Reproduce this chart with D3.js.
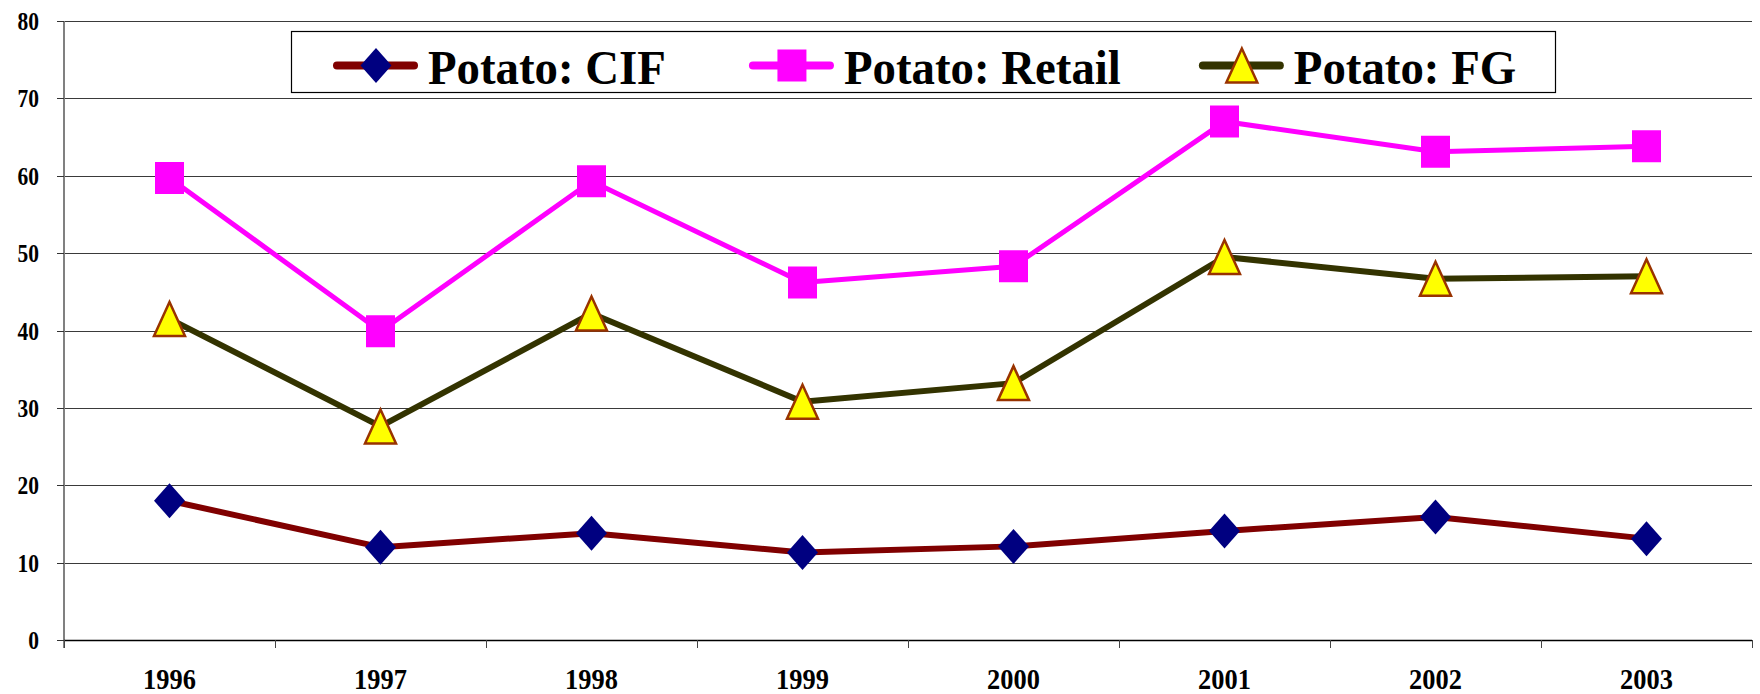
<!DOCTYPE html>
<html>
<head>
<meta charset="utf-8">
<script src="https://cdn.jsdelivr.net/npm/d3@7"></script>
<style>
  html, body { margin: 0; padding: 0; background: #fff; }
  svg { display: block; }
  text { font-family: "Liberation Serif", "Times New Roman", Times, "DejaVu Serif", serif; font-weight: bold; fill: #000; }
</style>
</head>
<body>
<div id="chart"></div>
<script>
// data
const years = ['1996', '1997', '1998', '1999', '2000', '2001', '2002', '2003'];
const cif = [18.0, 12.0, 13.8, 11.3, 12.1, 14.1, 15.9, 13.1];
const retail = [59.7, 39.9, 59.3, 46.2, 48.3, 67.0, 63.1, 63.8];
const fg = [41.5, 27.6, 42.2, 30.8, 33.2, 49.5, 46.7, 47.0];
const yTicks = [0, 10, 20, 30, 40, 50, 60, 70, 80];
const seriesNames = ['Potato: CIF', 'Potato: Retail', 'Potato: FG'];

const width = 1760;
const height = 694;
const plotLeft = 64, plotRight = 1752, plotTop = 21, plotBottom = 640;

const series = [
  {name: seriesNames[0], values: cif, line: '#800000', lineWidth: 6, shape: 'diamond', fill: '#000080', stroke: 'none'},
  {name: seriesNames[1], values: retail, line: '#ff00ff', lineWidth: 5, shape: 'square', fill: '#ff00ff', stroke: 'none'},
  {name: seriesNames[2], values: fg, line: '#333300', lineWidth: 6, shape: 'triangle', fill: '#ffff00', stroke: '#993300'}
];

const svg = d3.select('#chart').append('svg')
  .attr('width', width)
  .attr('height', height);

svg.append('rect').attr('width', width).attr('height', height).attr('fill', '#fff');

const x = d3.scaleBand().domain(years).range([plotLeft, plotRight]);
const y = d3.scaleLinear().domain([0, 80]).range([plotBottom, plotTop]);

// gridlines
svg.append('g')
  .selectAll('line')
  .data(yTicks.filter(d => d > 0))
  .join('line')
  .attr('x1', plotLeft).attr('x2', plotRight)
  .attr('y1', d => Math.round(y(d)) + 0.5).attr('y2', d => Math.round(y(d)) + 0.5)
  .attr('stroke', '#3a3a3a')
  .attr('stroke-width', 1);

// y axis
const yAxis = svg.append('g');
yAxis.append('line')
  .attr('x1', plotLeft).attr('x2', plotLeft)
  .attr('y1', plotTop).attr('y2', plotBottom + 8)
  .attr('stroke', '#808080').attr('stroke-width', 2);
yAxis.selectAll('.tick')
  .data(yTicks)
  .join('line')
  .attr('class', 'tick')
  .attr('x1', plotLeft - 7).attr('x2', plotLeft)
  .attr('y1', d => Math.round(y(d)) + 0.5).attr('y2', d => Math.round(y(d)) + 0.5)
  .attr('stroke', '#333');
yAxis.selectAll('g.lbl')
  .data(yTicks)
  .join('g')
  .attr('class', 'lbl')
  .attr('transform', d => `translate(39,${y(d)}) scale(0.86,1)`)
  .append('text')
  .attr('dy', '0.36em')
  .attr('text-anchor', 'end')
  .style('font-size', '25px')
  .text(d => d);

// x axis
const xAxis = svg.append('g');
xAxis.append('line')
  .attr('x1', plotLeft).attr('x2', plotRight)
  .attr('y1', plotBottom + 0.5).attr('y2', plotBottom + 0.5)
  .attr('stroke', '#000').attr('stroke-width', 1.5);
xAxis.selectAll('.tick')
  .data(years.concat(['end']))
  .join('line')
  .attr('class', 'tick')
  .attr('x1', (d, i) => Math.round(plotLeft + i * x.step()) + 0.5)
  .attr('x2', (d, i) => Math.round(plotLeft + i * x.step()) + 0.5)
  .attr('y1', plotBottom).attr('y2', plotBottom + 8)
  .attr('stroke', '#444');
xAxis.selectAll('g.lbl')
  .data(years)
  .join('g')
  .attr('class', 'lbl')
  .attr('transform', d => `translate(${x(d) + x.bandwidth() / 2},689) scale(0.88,1)`)
  .append('text')
  .attr('text-anchor', 'middle')
  .style('font-size', '30px')
  .text(d => d);

// marker shapes, half width / half height
function markerPath(shape) {
  if (shape === 'diamond') {
    const w = 15.5, h = 17.5;
    return `M0,${-h}L${w},0L0,${h}L${-w},0Z`;
  }
  if (shape === 'square') {
    const w = 14.5, h = 16;
    return `M${-w},${-h}H${w}V${h}H${-w}Z`;
  }
  const w = 15.5, h = 17;
  return `M0,${-h}L${w},${h}L${-w},${h}Z`;
}

const line = d3.line()
  .x((d, i) => x(years[i]) + x.bandwidth() / 2)
  .y(d => y(d));

const plot = svg.append('g');
series.forEach(s => {
  plot.append('path')
    .attr('d', line(s.values))
    .attr('fill', 'none')
    .attr('stroke', s.line)
    .attr('stroke-width', s.lineWidth)
    .attr('stroke-linejoin', 'round');
});
series.forEach(s => {
  plot.append('g')
    .selectAll('path')
    .data(s.values)
    .join('path')
    .attr('transform', (d, i) => `translate(${x(years[i]) + x.bandwidth() / 2},${y(d)})`)
    .attr('d', markerPath(s.shape))
    .attr('fill', s.fill)
    .attr('stroke', s.stroke)
    .attr('stroke-width', s.stroke === 'none' ? 0 : 2.5)
    .attr('stroke-linejoin', 'miter');
});

// legend
const legend = svg.append('g');
legend.append('rect')
  .attr('x', 291.5).attr('y', 31.5)
  .attr('width', 1264).attr('height', 61)
  .attr('fill', '#fff')
  .attr('stroke', '#000')
  .attr('stroke-width', 1.2);

// squeeze the legend text so "Potato: CIF" spans about 238px like the original
const probe = legend.append('text').style('font-size', '48px').text(seriesNames[0]);
const sx = Math.min(1, 238 / probe.node().getComputedTextLength());
probe.remove();

let cx = 333;
const ly = 65.5;
series.forEach((s, i) => {
  const item = legend.append('g');
  item.append('line')
    .attr('x1', cx + 4).attr('x2', cx + 81)
    .attr('y1', ly).attr('y2', ly)
    .attr('stroke', s.line)
    .attr('stroke-width', 8)
    .attr('stroke-linecap', 'round');
  item.append('path')
    .attr('transform', `translate(${cx + 43},${ly})`)
    .attr('d', markerPath(s.shape))
    .attr('fill', s.fill)
    .attr('stroke', s.stroke)
    .attr('stroke-width', s.stroke === 'none' ? 0 : 2.5);
  const t = item.append('g')
    .attr('transform', `translate(${cx + 95},84) scale(${sx},1)`)
    .append('text')
    .style('font-size', '48px')
    .text(s.name);
  const w = t.node().getComputedTextLength() * sx;
  cx = cx + 95 + w + (i === 0 ? 83 : 78);
});
</script>
</body>
</html>
